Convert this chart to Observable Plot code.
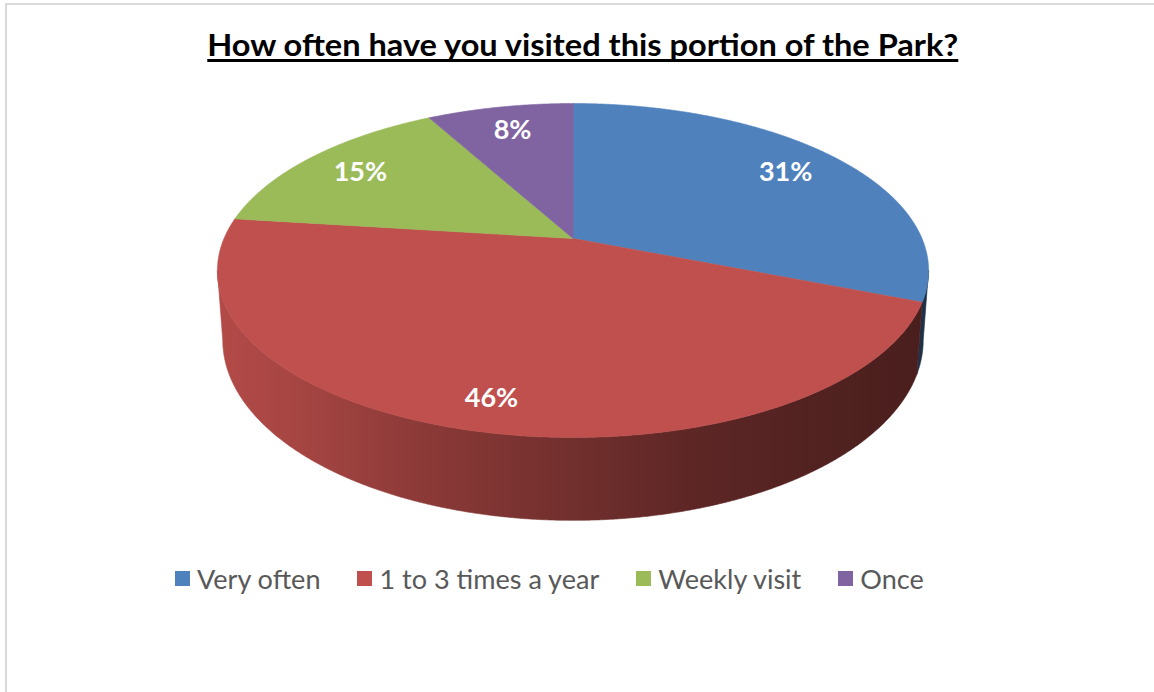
<!DOCTYPE html>
<html><head><meta charset="utf-8">
<script src="https://cdn.jsdelivr.net/npm/d3@7"></script>
<script src="https://cdn.jsdelivr.net/npm/@observablehq/plot@0.6"></script>
<style>
html,body{margin:0;padding:0;background:#fff;}
#wrap{position:relative;width:1154px;height:692px;overflow:hidden;font-family:Lato,"Open Sans",sans-serif;}
#border{position:absolute;left:5px;top:3px;width:1300px;height:900px;border-left:2px solid #d9d9d9;border-top:2px solid #d9d9d9;box-sizing:border-box;}
#chart{position:absolute;left:0;top:0;}
#title{position:absolute;left:5px;width:1155px;top:24px;text-align:center;line-height:1;}
#title span{font-family:Lato,sans-serif;font-weight:bold;font-size:31px;color:#000;text-decoration:underline;text-decoration-thickness:3px;text-underline-offset:3px;text-decoration-skip-ink:none;white-space:nowrap;display:inline-block;transform-origin:50% 50%;}
#legend{position:absolute;left:175px;top:565px;}
#legend .lg-swatches{margin:0;font-family:Lato,sans-serif;}
#legend .lg-swatches-wrap{min-height:0;flex-wrap:nowrap;}
#legend .lg-swatch{margin-right:37px;font-size:27px;line-height:1;color:#595959;font-family:Lato,sans-serif;white-space:nowrap;}
#legend .lg-swatch > svg{margin-right:7px;}
</style>
</head><body>
<div id="wrap">
  <div id="border"></div>
  <div id="chart"></div>
  <div id="title"></div>
  <div id="legend"></div>
</div>
<script>
// ---- data ----
const categories = ["Very often", "1 to 3 times a year", "Weekly visit", "Once"];
const shares = [31, 46, 15, 8];
const pctLabels = ["31%", "46%", "15%", "8%"];
const colors = ["#4f81bd", "#c0504d", "#9bbb59", "#8064a2"];
const titleText = "How often have you visited this portion of the Park?";

// ---- layout / perspective geometry ----
const W = 1154, H = 692;
const CX = 572.5, CY = 238, K = 349, B = 115.26, C = -0.1916, D0 = 67, BOTTOM_SHRINK = 0.985;
function proj(th, r = 1) {
  const s = r * Math.sin(th), t = -r * Math.cos(th), den = 1 + C * t;
  return {x: CX + K * s / den, y: (CY + B * t) / den, den};
}
const arcs = d3.pie().sort(null).value(d => d)(shares);
const TH_R = Math.acos(C), TH_L = 2 * Math.PI - TH_R;
const STEP = Math.PI / 720;
function samples(a0, a1) {
  const n = Math.max(2, Math.ceil((a1 - a0) / STEP));
  return d3.range(n + 1).map(i => a0 + (a1 - a0) * i / n);
}
const topPts = [], wallPts = [];
arcs.forEach((a, i) => {
  const c = proj(0, 0);
  topPts.push({k: i, x: c.x, y: c.y});
  for (const th of samples(a.startAngle, a.endAngle)) { const p = proj(th); topPts.push({k: i, x: p.x, y: p.y}); }
  const w0 = Math.max(a.startAngle, TH_R), w1 = Math.min(a.endAngle, TH_L);
  if (w1 > w0) {
    const ths = samples(w0, w1);
    for (const th of ths) { const p = proj(th); wallPts.push({k: i, x: p.x, y: p.y}); }
    for (const th of ths.slice().reverse()) {
      const p = proj(th);
      wallPts.push({k: i, x: CX + (p.x - CX) * BOTTOM_SHRINK, y: p.y + D0 / p.den});
    }
  }
});
const labelData = arcs.map((a, i) => {
  const m = (a.startAngle + a.endAngle) / 2, r = 0.8;
  const p = proj(m, r), t = -r * Math.cos(m);
  return {x: p.x, y: p.y + 18 * Math.max(0, t), text: pctLabels[i]};
});

const marks = [];
arcs.forEach((a, i) => {
  const pts = wallPts.filter(d => d.k === i);
  if (pts.length) marks.push(Plot.line(pts, {x: "x", y: "y", curve: "linear-closed", fill: `url(#wall${i})`, stroke: `url(#wall${i})`, strokeWidth: 0.6}));
});
arcs.forEach((a, i) => {
  marks.push(Plot.line(topPts.filter(d => d.k === i), {x: "x", y: "y", curve: "linear-closed", fill: colors[i], stroke: colors[i], strokeWidth: 0.6}));
});
marks.push(Plot.text(labelData, {x: "x", y: "y", text: "text", fill: "white", fontSize: 27, fontWeight: "bold", fontFamily: "Lato, sans-serif"}));

const svgEl = Plot.plot({
  width: W, height: H, margin: 0,
  x: {type: "identity", axis: null},
  y: {type: "identity", axis: null},
  style: {background: "transparent", overflow: "visible"},
  marks
});
document.getElementById("chart").appendChild(svgEl);

// side shading gradients
const defs = d3.select(svgEl).insert("defs", ":first-child");
const half = K / Math.sqrt(1 - C * C);
const shade = [[0, 0.93], [0.12, 0.86], [0.285, 0.73], [0.5, 0.59], [0.68, 0.48], [0.85, 0.42], [1, 0.38]];
colors.forEach((c, i) => {
  const g = defs.append("linearGradient").attr("id", `wall${i}`).attr("gradientUnits", "userSpaceOnUse")
    .attr("x1", CX - half).attr("x2", CX + half).attr("y1", 0).attr("y2", 0);
  const rgb = d3.rgb(c);
  shade.forEach(([o, f]) => g.append("stop").attr("offset", o).attr("stop-color", d3.rgb(rgb.r * f, rgb.g * f, rgb.b * f).formatHex()));
});

// title: Calibri-like condensed look — size by cap height, squeeze to reference width
const tspan = document.createElement("span");
tspan.textContent = titleText;
document.getElementById("title").appendChild(tspan);
const tSize = 31;
const tw = tspan.getBoundingClientRect().width;
tspan.style.transform = `scaleX(${751 / tw})`;
document.getElementById("title").style.top = (56 - 0.887 * tSize) + "px";

// legend
const leg = Plot.legend({
  color: {type: "ordinal", domain: categories, range: colors},
  legend: "swatches", swatchSize: 15, className: "lg"
});
document.getElementById("legend").appendChild(leg);
const items = leg.querySelectorAll(".lg-swatch");
let sum = 0;
items.forEach(el => { sum += el.getBoundingClientRect().width - 22; });
const lSize = 27 * 550 / sum;
items.forEach(el => el.style.fontSize = lSize + "px");
document.getElementById("legend").style.top = (589 - 0.887 * lSize) + "px";
</script>
</body></html>
